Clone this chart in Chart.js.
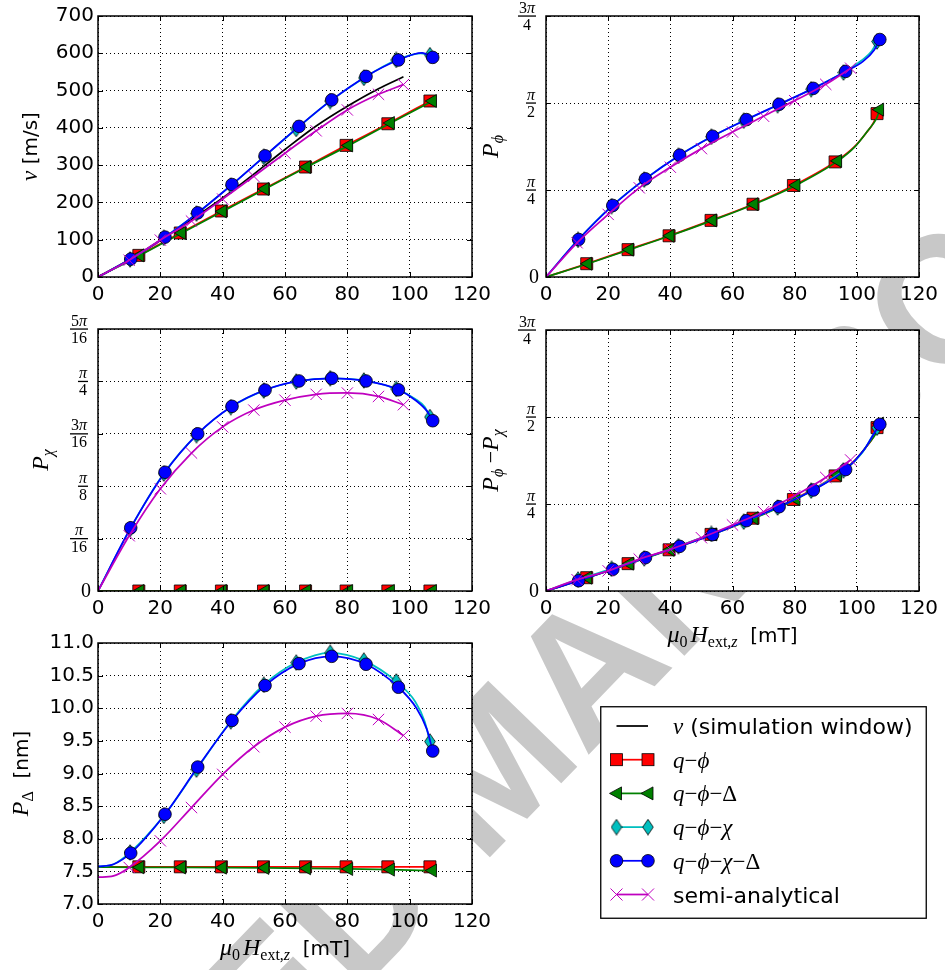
<!DOCTYPE html>
<html>
<head>
<meta charset="utf-8">
<script src="https://cdn.jsdelivr.net/npm/chart.js@4.4.1/dist/chart.umd.min.js"></script>
<style>
  html, body { margin: 0; padding: 0; background: #fff; }
  #page { position: relative; width: 945px; height: 970px; overflow: hidden; }
  #page canvas { position: absolute; }
  #watermark {
    position: absolute; left: 492px; top: 765px;
    transform: translate(-50%, -50%) rotate(-46deg);
    font: bold 180px "Liberation Sans"; color: #c8c8c8; white-space: nowrap;
  }
</style>
</head>
<body>
<div id="page">
  <div id="watermark">ACCEPTED MANUSCRIPT</div>
  <canvas id="pVel"></canvas>
  <canvas id="pPhi"></canvas>
  <canvas id="pChi"></canvas>
  <canvas id="pDiff"></canvas>
  <canvas id="pDelta"></canvas>
  <canvas id="legend"></canvas>
</div>
<script>
// applied field mu0*H_ext,z [mT] of the marked points, per model
const fieldQPhi = [13.1, 26.4, 39.6, 53.1, 66.6, 79.6, 93.0, 106.5];
const fieldQPhiDelta = [13.5, 26.9, 40.0, 53.6, 67.0, 80.5, 93.9, 107.4];
const fieldQPhiChi = [10.3, 21.1, 31.6, 42.6, 53.2, 63.6, 74.5, 85.3, 95.7, 106.5];
const fieldQPhiChiDelta = [10.5, 21.5, 32.0, 43.0, 53.6, 64.5, 75.0, 86.0, 96.4, 107.4];
const fieldSemi = [10, 20, 30, 40, 50, 60, 70, 80, 90, 98];
const fieldWindow = [0, 10, 20, 30, 40, 50, 60, 70, 80, 90, 98];

// wall velocity v [m/s]
const velQPhi = [58, 118, 177, 236, 295, 353, 411, 472];
const velQPhiDelta = [58, 118, 176, 236, 295, 353, 413, 472];
const velQPhiChi = [47, 105, 170, 245, 322, 397, 472, 534, 582, 595];
const velQPhiChiDelta = [48, 107, 172, 248, 325, 404, 475, 538, 582, 589];
const velSemi = [45, 99, 150, 209, 270, 332, 392, 448, 490, 516];
const velWindow = [0, 46, 98, 154, 212, 276, 342, 405, 458, 505, 537];
// extra points the curves pass through (no marker), [field, value]
const velCurveQPhi = [[0, 0]];
const velCurveQPhiDelta = [[0, 0]];
const velCurveQPhiChi = [[0, 0], [103.5, 600]];
const velCurveQPhiChiDelta = [[0, 0], [104, 601]];
const velCurveSemi = [[0, 0]];

// P_phi [rad]
const phiQPhi = [0.120, 0.247, 0.372, 0.511, 0.657, 0.826, 1.039, 1.475];
const phiQPhiDelta = [0.120, 0.247, 0.372, 0.511, 0.657, 0.829, 1.048, 1.511];
const phiQPhiChi = [0.335, 0.640, 0.879, 1.093, 1.266, 1.411, 1.551, 1.695, 1.846, 2.126];
const phiQPhiChiDelta = [0.339, 0.646, 0.886, 1.100, 1.271, 1.421, 1.559, 1.703, 1.856, 2.144];
const phiSemi = [0.309, 0.565, 0.805, 0.991, 1.159, 1.309, 1.451, 1.592, 1.739, 1.885];
const phiCurveQPhi = [[0, 0], [99, 1.17], [103, 1.30], [105.5, 1.40]];
const phiCurveQPhiDelta = [[0, 0], [99.5, 1.18], [103.5, 1.32], [106.3, 1.43]];
const phiCurveQPhiChi = [[0, 0], [101.5, 1.955], [104.8, 2.04]];
const phiCurveQPhiChiDelta = [[0, 0], [102, 1.946], [105.6, 2.05]];
const phiCurveSemi = [[0, 0]];

// P_chi [rad]
const chiQPhi = [0, 0, 0, 0, 0, 0, 0, 0];
const chiQPhiDelta = [0, 0, 0, 0, 0, 0, 0, 0];
const chiQPhiChi = [0.232, 0.440, 0.584, 0.689, 0.751, 0.785, 0.797, 0.789, 0.757, 0.652];
const chiQPhiChiDelta = [0.237, 0.445, 0.589, 0.692, 0.753, 0.787, 0.797, 0.787, 0.754, 0.638];
const chiSemi = [0.207, 0.383, 0.517, 0.615, 0.678, 0.715, 0.737, 0.742, 0.729, 0.698];
const chiCurveQPhi = [[0, 0]];
const chiCurveQPhiDelta = [[0, 0]];
const chiCurveQPhiChi = [[0, 0], [101.8, 0.72], [104.8, 0.69]];
const chiCurveQPhiChiDelta = [[0, 0], [102.2, 0.712], [105.5, 0.675]];
const chiCurveSemi = [[0, 0]];

// P_phi - P_chi [rad]
const diffQPhi = [0.120, 0.247, 0.372, 0.511, 0.657, 0.826, 1.039, 1.475];
const diffQPhiDelta = [0.120, 0.247, 0.372, 0.511, 0.657, 0.829, 1.048, 1.511];
const diffQPhiChi = [0.103, 0.200, 0.295, 0.404, 0.515, 0.626, 0.754, 0.906, 1.089, 1.474];
const diffQPhiChiDelta = [0.093, 0.196, 0.301, 0.403, 0.509, 0.635, 0.761, 0.912, 1.096, 1.505];
const diffSemi = [0.102, 0.182, 0.288, 0.376, 0.481, 0.596, 0.716, 0.860, 1.025, 1.183];
const diffCurveQPhi = [[0, 0], [99, 1.17], [103, 1.30], [105.5, 1.40]];
const diffCurveQPhiDelta = [[0, 0], [99.5, 1.18], [103.5, 1.32], [106.3, 1.43]];
const diffCurveQPhiChi = [[0, 0], [101.8, 1.25], [104.8, 1.39]];
const diffCurveQPhiChiDelta = [[0, 0], [102.2, 1.27], [105.5, 1.42]];
const diffCurveSemi = [[0, 0]];

// P_Delta [nm]
const deltaQPhi = [7.57, 7.57, 7.57, 7.57, 7.57, 7.57, 7.57, 7.57];
const deltaQPhiDelta = [7.562, 7.560, 7.557, 7.553, 7.547, 7.537, 7.527, 7.512];
const deltaQPhiChi = [7.79, 8.35, 9.06, 9.80, 10.36, 10.70, 10.85, 10.73, 10.41, 9.49];
const deltaQPhiChiDelta = [7.78, 8.376, 9.099, 9.813, 10.348, 10.684, 10.796, 10.674, 10.322, 9.344];
const deltaSemi = [7.56, 7.968, 8.478, 8.987, 9.41, 9.711, 9.879, 9.92, 9.828, 9.583];
const deltaCurveQPhi = [[0, 7.57]];
const deltaCurveQPhiDelta = [[0, 7.565]];
const deltaCurveQPhiChi = [[0, 7.575], [5, 7.61], [101.8, 10.1], [104.8, 9.8]];
const deltaCurveQPhiChiDelta = [[0, 7.575], [5, 7.61], [102.2, 10.0], [105.5, 9.68]];
const deltaCurveSemi = [[0, 7.41], [5, 7.43]];

// tick values / labels of the angle axes
const ticksPhi = [0, Math.PI / 4, Math.PI / 2, 3 * Math.PI / 4];
const labelsPhi = [['0'], ['π', '4'], ['π', '2'], ['3π', '4']];
const ticksChi = [0, Math.PI / 16, Math.PI / 8, 3 * Math.PI / 16, Math.PI / 4, 5 * Math.PI / 16];
const labelsChi = [['0'], ['π', '16'], ['π', '8'], ['3π', '16'], ['π', '4'], ['5π', '16']];

const MATH = '"Liberation Serif", "DejaVu Serif"';
const SANS = '"DejaVu Sans"';
const it = (t, size, dy) => ({ t, f: `italic ${size}px ${MATH}`, dy: dy || 0 });
const rm = (t, size, dy) => ({ t, f: `${size}px ${MATH}`, dy: dy || 0 });
const sf = (t, size) => ({ t, f: `${size}px ${SANS}`, dy: 0 });

const TITLE_VEL = [it('v', 23), sf(' [m/s]', 20)];
const TITLE_PHI = [it('P', 24), it('ϕ', 16, 5)];
const TITLE_CHI = [it('P', 24), it('χ', 16, 5)];
const TITLE_DIFF = [it('P', 24), it('ϕ', 16, 5), rm(' −', 22), it('P', 24), it('χ', 16, 5)];
const TITLE_DELTA = [it('P', 24), rm('Δ', 16, 5), sf('  [nm]', 20)];
const TITLE_FIELD = [it('μ', 24), rm('0', 16, 5), rm(' ', 12), it('H', 24), rm('ext,', 16, 5), it('z', 16, 5), sf('  [mT]', 20)];

// thin diamond marker (matplotlib 'd')
const diamondMark = document.createElement('canvas');
diamondMark.width = 12; diamondMark.height = 17;
(function () {
    const c = diamondMark.getContext('2d');
    c.beginPath();
    c.moveTo(6, 0.7); c.lineTo(11.3, 8.5); c.lineTo(6, 16.3); c.lineTo(0.7, 8.5);
    c.closePath();
    c.fillStyle = '#00bfbf'; c.fill();
    c.strokeStyle = '#000'; c.lineWidth = 0.8; c.stroke();
})();

const BLACK = { color: '#000000', point: false, order: 5 };
const RED = { color: '#ff0000', point: 'rect', radius: 8.5, order: 4 };
const GREEN = { color: '#008000', point: 'triangle', rotation: -90, radius: 7.5, order: 3 };
const CYAN = { color: '#00bfbf', point: diamondMark, radius: 7, order: 2 };
const BLUE = { color: '#0000ff', point: 'circle', radius: 6.3, order: 1 };
const MAGENTA = { color: '#bf00bf', point: 'crossRot', radius: 8, edge: '#bf00bf', edgeWidth: 1, order: 0 };

function series(fields, values, curve) {
    const pts = fields.map((x, i) => ({ x, y: values[i], mark: true }));
    (curve || []).forEach(([x, y]) => pts.push({ x, y, mark: false }));
    return pts.sort((a, b) => a.x - b.x);
}

function dataset(data, style) {
    return {
        data,
        borderColor: style.color,
        borderWidth: 1.75,
        cubicInterpolationMode: 'monotone',
        pointStyle: style.point,
        pointRotation: style.rotation || 0,
        pointRadius: ctx => (style.point && ctx.raw && ctx.raw.mark ? style.radius : 0),
        pointBackgroundColor: style.color,
        pointBorderColor: style.edge || '#000',
        pointBorderWidth: style.edgeWidth || 0.8,
        clip: 0,
        order: style.order
    };
}

function widthOf(ctx, pieces) {
    return pieces.reduce((w, p) => { ctx.font = p.f; return w + ctx.measureText(p.t).width; }, 0);
}

function drawPieces(ctx, pieces, x, by, center) {
    if (center) x -= widthOf(ctx, pieces) / 2;
    ctx.textAlign = 'left';
    ctx.textBaseline = 'alphabetic';
    pieces.forEach(p => {
        ctx.font = p.f;
        ctx.fillText(p.t, x, by + p.dy);
        x += ctx.measureText(p.t).width;
    });
}

function drawFraction(ctx, lines, xr, y) {
    ctx.fillStyle = '#000';
    if (lines.length === 1) {
        ctx.font = `20px ${MATH}`;
        ctx.textAlign = 'right';
        ctx.textBaseline = 'middle';
        ctx.fillText(lines[0], xr + 3, y + 1);
        return;
    }
    const toPieces = s => [...s].map(ch => (ch === 'π' ? it(ch, 16) : rm(ch, 16)));
    const num = toPieces(lines[0]);
    const den = toPieces(lines[1]);
    const w = Math.max(widthOf(ctx, num), widthOf(ctx, den)) + 2;
    const cx = xr - w / 2;
    ctx.fillRect(cx - w / 2, y - 0.6, w, 1.3);
    drawPieces(ctx, num, cx, y - 3.5, true);
    drawPieces(ctx, den, cx, y + 13.5, true);
}

const framePlugin = {
    id: 'frame',
    beforeDraw(chart) {
        const { ctx, chartArea: a } = chart;
        ctx.save();
        ctx.fillStyle = '#fff';
        ctx.fillRect(a.left, a.top, a.right - a.left, a.bottom - a.top);
        ctx.restore();
    },
    afterDraw(chart, args, opts) {
        const { ctx, chartArea: a, scales } = chart;
        ctx.save();
        // inward ticks on all four sides
        ctx.strokeStyle = '#000';
        ctx.lineWidth = 1;
        ctx.beginPath();
        scales.x.ticks.forEach(t => {
            const px = Math.round(scales.x.getPixelForValue(t.value)) + 0.5;
            ctx.moveTo(px, a.bottom); ctx.lineTo(px, a.bottom - 5);
            ctx.moveTo(px, a.top); ctx.lineTo(px, a.top + 5);
        });
        scales.y.ticks.forEach(t => {
            const py = Math.round(scales.y.getPixelForValue(t.value)) + 0.5;
            ctx.moveTo(a.left, py); ctx.lineTo(a.left + 5, py);
            ctx.moveTo(a.right, py); ctx.lineTo(a.right - 5, py);
        });
        ctx.stroke();
        ctx.lineWidth = 1.5;
        ctx.strokeRect(a.left, a.top, a.right - a.left, a.bottom - a.top);

        ctx.fillStyle = '#000';
        if (opts.fracTicks) {
            opts.fracTicks.forEach((v, i) => {
                drawFraction(ctx, opts.fracLabels[i], a.left - 10, scales.y.getPixelForValue(v));
            });
        }
        if (opts.yTitle) {
            ctx.save();
            ctx.translate(a.left - opts.yTitleOffset, (a.top + a.bottom) / 2);
            ctx.rotate(-Math.PI / 2);
            drawPieces(ctx, opts.yTitle, 0, 0, true);
            ctx.restore();
        }
        if (opts.xTitle) {
            drawPieces(ctx, opts.xTitle, (a.left + a.right) / 2, a.bottom + 51, true);
        }
        ctx.restore();
    }
};

function makePanel(id, box, area, yScale, datasets, frame) {
    const canvas = document.getElementById(id);
    canvas.width = box.width;
    canvas.height = box.height;
    canvas.style.left = box.left + 'px';
    canvas.style.top = box.top + 'px';
    canvas.style.width = box.width + 'px';
    canvas.style.height = box.height + 'px';

    const tickFont = { family: 'DejaVu Sans', size: 20 };
    const y = Object.assign({
        type: 'linear',
        afterFit: s => { s.width = area.l - box.left; },
        grid: { color: '#000', lineWidth: 1, drawTicks: false },
        border: { display: false, dash: [1, 3] }
    }, yScale);
    y.ticks = Object.assign({ padding: 4, color: '#000', font: tickFont }, yScale.ticks || {});

    return new Chart(canvas.getContext('2d'), {
        type: 'line',
        data: { datasets },
        plugins: [framePlugin],
        options: {
            responsive: false,
            maintainAspectRatio: false,
            animation: false,
            devicePixelRatio: 1,
            events: [],
            layout: {
                padding: {
                    left: 0,
                    top: area.t - box.top,
                    right: box.left + box.width - area.r,
                    bottom: 0
                }
            },
            plugins: { legend: { display: false }, tooltip: { enabled: false }, frame },
            scales: {
                x: {
                    type: 'linear',
                    min: 0,
                    max: 120,
                    afterFit: s => { s.height = box.top + box.height - area.b; },
                    ticks: { stepSize: 20, autoSkip: false, maxRotation: 0, padding: 6, color: '#000', font: tickFont },
                    grid: { color: '#000', lineWidth: 1, drawTicks: false },
                    border: { display: false, dash: [1, 3] }
                },
                y
            }
        }
    });
}

function angleAxis(max, ticks) {
    return {
        min: 0,
        max,
        ticks: { display: false },
        afterBuildTicks: s => { s.ticks = ticks.map(v => ({ value: v })); }
    };
}

makePanel('pVel', { left: 0, top: 0, width: 500, height: 310 }, { l: 98, t: 16, r: 472, b: 277 },
    { min: 0, max: 700, ticks: { stepSize: 100 } },
    [
        dataset(series(fieldWindow, velWindow), BLACK),
        dataset(series(fieldQPhi, velQPhi, velCurveQPhi), RED),
        dataset(series(fieldQPhiDelta, velQPhiDelta, velCurveQPhiDelta), GREEN),
        dataset(series(fieldQPhiChi, velQPhiChi, velCurveQPhiChi), CYAN),
        dataset(series(fieldQPhiChiDelta, velQPhiChiDelta, velCurveQPhiChiDelta), BLUE),
        dataset(series(fieldSemi, velSemi, velCurveSemi), MAGENTA)
    ],
    { yTitle: TITLE_VEL, yTitleOffset: 61 });

makePanel('pPhi', { left: 475, top: 0, width: 470, height: 310 }, { l: 546, t: 16, r: 919, b: 277 },
    angleAxis(3 * Math.PI / 4, ticksPhi),
    [
        dataset(series(fieldQPhi, phiQPhi, phiCurveQPhi), RED),
        dataset(series(fieldQPhiDelta, phiQPhiDelta, phiCurveQPhiDelta), GREEN),
        dataset(series(fieldQPhiChi, phiQPhiChi, phiCurveQPhiChi), CYAN),
        dataset(series(fieldQPhiChiDelta, phiQPhiChiDelta, phiCurveQPhiChiDelta), BLUE),
        dataset(series(fieldSemi, phiSemi, phiCurveSemi), MAGENTA)
    ],
    { yTitle: TITLE_PHI, yTitleOffset: 48, fracTicks: ticksPhi, fracLabels: labelsPhi });

makePanel('pChi', { left: 0, top: 300, width: 500, height: 330 }, { l: 98, t: 329, r: 472, b: 591 },
    angleAxis(5 * Math.PI / 16, ticksChi),
    [
        dataset(series(fieldQPhi, chiQPhi, chiCurveQPhi), RED),
        dataset(series(fieldQPhiDelta, chiQPhiDelta, chiCurveQPhiDelta), GREEN),
        dataset(series(fieldQPhiChi, chiQPhiChi, chiCurveQPhiChi), CYAN),
        dataset(series(fieldQPhiChiDelta, chiQPhiChiDelta, chiCurveQPhiChiDelta), BLUE),
        dataset(series(fieldSemi, chiSemi, chiCurveSemi), MAGENTA)
    ],
    { yTitle: TITLE_CHI, yTitleOffset: 50, fracTicks: ticksChi, fracLabels: labelsChi });

makePanel('pDiff', { left: 475, top: 300, width: 470, height: 360 }, { l: 546, t: 330, r: 919, b: 591 },
    angleAxis(3 * Math.PI / 4, ticksPhi),
    [
        dataset(series(fieldQPhi, diffQPhi, diffCurveQPhi), RED),
        dataset(series(fieldQPhiDelta, diffQPhiDelta, diffCurveQPhiDelta), GREEN),
        dataset(series(fieldQPhiChi, diffQPhiChi, diffCurveQPhiChi), CYAN),
        dataset(series(fieldQPhiChiDelta, diffQPhiChiDelta, diffCurveQPhiChiDelta), BLUE),
        dataset(series(fieldSemi, diffSemi, diffCurveSemi), MAGENTA)
    ],
    { yTitle: TITLE_DIFF, yTitleOffset: 48, fracTicks: ticksPhi, fracLabels: labelsPhi, xTitle: TITLE_FIELD });

makePanel('pDelta', { left: 0, top: 620, width: 500, height: 350 }, { l: 98, t: 643, r: 472, b: 904 },
    { min: 7, max: 11, ticks: { stepSize: 0.5, callback: v => v.toFixed(1) } },
    [
        dataset(series(fieldQPhi, deltaQPhi, deltaCurveQPhi), RED),
        dataset(series(fieldQPhiDelta, deltaQPhiDelta, deltaCurveQPhiDelta), GREEN),
        dataset(series(fieldQPhiChi, deltaQPhiChi, deltaCurveQPhiChi), CYAN),
        dataset(series(fieldQPhiChiDelta, deltaQPhiChiDelta, deltaCurveQPhiChiDelta), BLUE),
        dataset(series(fieldSemi, deltaSemi, deltaCurveSemi), MAGENTA)
    ],
    { yTitle: TITLE_DELTA, yTitleOffset: 70, xTitle: TITLE_FIELD });

// legend, drawn by hand in the empty bottom-right cell
const legendEntries = [
    [it('v', 23), sf(' (simulation window)', 22)],
    [it('q', 23), rm('−', 23), it('ϕ', 23)],
    [it('q', 23), rm('−', 23), it('ϕ', 23), rm('−', 23), rm('Δ', 23)],
    [it('q', 23), rm('−', 23), it('ϕ', 23), rm('−', 23), it('χ', 23)],
    [it('q', 23), rm('−', 23), it('ϕ', 23), rm('−', 23), it('χ', 23), rm('−', 23), rm('Δ', 23)],
    [sf('semi-analytical', 22)]
];
const legendStyles = [BLACK, RED, GREEN, CYAN, BLUE, MAGENTA];

function legendMarker(ctx, style, x, y) {
    ctx.save();
    ctx.fillStyle = style.color;
    ctx.strokeStyle = '#000';
    ctx.lineWidth = 0.8;
    if (style === RED) {
        ctx.fillRect(x - 6, y - 6, 12, 12);
        ctx.strokeRect(x - 6, y - 6, 12, 12);
    } else if (style === GREEN) {
        ctx.beginPath();
        ctx.moveTo(x - 7, y); ctx.lineTo(x + 5, y - 6.5); ctx.lineTo(x + 5, y + 6.5);
        ctx.closePath(); ctx.fill(); ctx.stroke();
    } else if (style === CYAN) {
        ctx.drawImage(diamondMark, x - 6, y - 8.5);
    } else if (style === BLUE) {
        ctx.beginPath(); ctx.arc(x, y, 6.3, 0, 2 * Math.PI); ctx.fill(); ctx.stroke();
    } else if (style === MAGENTA) {
        ctx.strokeStyle = style.color; ctx.lineWidth = 1;
        ctx.beginPath();
        ctx.moveTo(x - 6, y - 6); ctx.lineTo(x + 6, y + 6);
        ctx.moveTo(x - 6, y + 6); ctx.lineTo(x + 6, y - 6);
        ctx.stroke();
    }
    ctx.restore();
}

(function drawLegend() {
    const box = { left: 600, top: 706, width: 327, height: 213 };
    const canvas = document.getElementById('legend');
    canvas.width = box.width; canvas.height = box.height;
    canvas.style.left = box.left + 'px';
    canvas.style.top = box.top + 'px';
    const ctx = canvas.getContext('2d');
    ctx.fillStyle = '#fff';
    ctx.fillRect(0, 0, box.width, box.height);
    ctx.strokeStyle = '#000';
    ctx.lineWidth = 1.3;
    ctx.strokeRect(0.75, 0.75, box.width - 1.5, box.height - 1.5);
    legendEntries.forEach((pieces, i) => {
        const y = 20 + i * 33.7;
        const style = legendStyles[i];
        ctx.strokeStyle = style.color;
        ctx.lineWidth = 1.75;
        ctx.beginPath(); ctx.moveTo(16.5, y); ctx.lineTo(48, y); ctx.stroke();
        legendMarker(ctx, style, 16.5, y);
        legendMarker(ctx, style, 48, y);
        ctx.fillStyle = '#000';
        drawPieces(ctx, pieces, 73, y + 8, false);
    });
})();
</script>
</body>
</html>
